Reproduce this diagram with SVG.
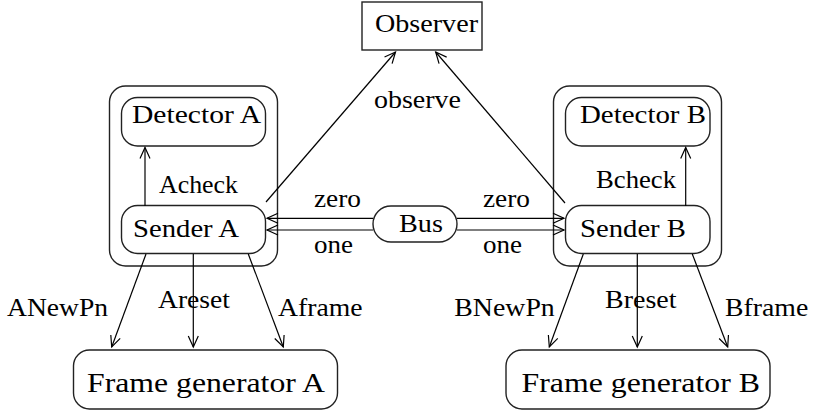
<svg xmlns="http://www.w3.org/2000/svg" width="814" height="410" viewBox="0 0 814 410">
<defs>
<marker id="ah" markerUnits="userSpaceOnUse" markerWidth="14" markerHeight="14" viewBox="-12 -7 14 14" refX="0" refY="0" orient="auto">
<path d="M-11,-5 L0,0 L-11,5" fill="none" stroke="#000" stroke-width="1.2"/>
</marker>
</defs>
<rect fill="#fff" width="814" height="410"/>
<g font-family="Liberation Serif" font-size="26" fill="#000">
<g id="observer"><rect fill="none" stroke="#222" stroke-width="1.4" x="362" y="2" width="120" height="48"/><text x="375" y="32" textLength="103" lengthAdjust="spacingAndGlyphs">Observer</text></g>
<g id="containerA"><rect fill="none" stroke="#222" stroke-width="1.4" x="109.5" y="86" width="168" height="180" rx="16"/></g>
<g id="detectorA"><rect fill="none" stroke="#222" stroke-width="1.4" x="121.5" y="97.5" width="144" height="48.5" rx="16"/><text x="132" y="123" textLength="129" lengthAdjust="spacingAndGlyphs">Detector A</text></g>
<g id="senderA"><rect fill="none" stroke="#222" stroke-width="1.4" x="121.5" y="205.5" width="144" height="48" rx="16"/><text x="133" y="236.5" textLength="106" lengthAdjust="spacingAndGlyphs">Sender A</text></g>
<g id="bus"><rect fill="none" stroke="#222" stroke-width="1.4" x="373" y="206" width="84" height="36" rx="18"/><text x="399" y="231.5" textLength="44" lengthAdjust="spacingAndGlyphs">Bus</text></g>
<g id="containerB"><rect fill="none" stroke="#222" stroke-width="1.4" x="553.5" y="86" width="168" height="180" rx="16"/></g>
<g id="detectorB"><rect fill="none" stroke="#222" stroke-width="1.4" x="565.5" y="97.5" width="144.5" height="48.5" rx="16"/><text x="580" y="123" textLength="126" lengthAdjust="spacingAndGlyphs">Detector B</text></g>
<g id="senderB"><rect fill="none" stroke="#222" stroke-width="1.4" x="565.5" y="205.5" width="144.5" height="48" rx="16"/><text x="580" y="236.5" textLength="106" lengthAdjust="spacingAndGlyphs">Sender B</text></g>
<g id="framegenA"><rect fill="none" stroke="#222" stroke-width="1.4" x="73.5" y="350" width="264" height="59" rx="16"/><text font-size="28" x="87" y="391.5" textLength="238" lengthAdjust="spacingAndGlyphs">Frame generator A</text></g>
<g id="framegenB"><rect fill="none" stroke="#222" stroke-width="1.4" x="506" y="350" width="264" height="59" rx="16"/><text font-size="28" x="521.5" y="391.5" textLength="238.5" lengthAdjust="spacingAndGlyphs">Frame generator B</text></g>
<g id="connectors">
<g fill="none" stroke="#000" stroke-width="1.2" marker-end="url(#ah)">
<line x1="145" y1="206" x2="145" y2="147.5"/>
<line x1="685.7" y1="206" x2="685.7" y2="147.5"/>
<line x1="266" y1="202" x2="395.5" y2="52"/>
<line x1="565" y1="203" x2="435.7" y2="52"/>
<line x1="373" y1="218.3" x2="267" y2="218.3"/>
<line x1="373" y1="230" x2="267" y2="230"/>
<line x1="457" y1="218.3" x2="564" y2="218.3"/>
<line x1="457" y1="230" x2="564" y2="230"/>
<line x1="146" y1="254" x2="111.7" y2="347"/>
<line x1="193.3" y1="254" x2="193.3" y2="347"/>
<line x1="248.3" y1="254" x2="283.3" y2="347"/>
<line x1="583.3" y1="254" x2="549.3" y2="347"/>
<line x1="637.3" y1="254" x2="637.3" y2="347"/>
<line x1="692.3" y1="254" x2="727.7" y2="347"/>
</g>
<text x="159" y="192.5" textLength="79" lengthAdjust="spacingAndGlyphs">Acheck</text>
<text x="596" y="188" textLength="80" lengthAdjust="spacingAndGlyphs">Bcheck</text>
<text x="374" y="108" textLength="87" lengthAdjust="spacingAndGlyphs">observe</text>
<text x="314" y="206.5" textLength="47" lengthAdjust="spacingAndGlyphs">zero</text>
<text x="314" y="252.5" textLength="39" lengthAdjust="spacingAndGlyphs">one</text>
<text x="483" y="206.5" textLength="47" lengthAdjust="spacingAndGlyphs">zero</text>
<text x="483" y="252.5" textLength="39" lengthAdjust="spacingAndGlyphs">one</text>
<text x="7" y="316" textLength="101" lengthAdjust="spacingAndGlyphs">ANewPn</text>
<text x="158" y="308.3" textLength="72" lengthAdjust="spacingAndGlyphs">Areset</text>
<text x="278" y="316" textLength="84.5" lengthAdjust="spacingAndGlyphs">Aframe</text>
<text x="454.3" y="316" textLength="100.5" lengthAdjust="spacingAndGlyphs">BNewPn</text>
<text x="605" y="308.3" textLength="71.5" lengthAdjust="spacingAndGlyphs">Breset</text>
<text x="725" y="316" textLength="83.3" lengthAdjust="spacingAndGlyphs">Bframe</text>
</g>
</g>
</svg>
